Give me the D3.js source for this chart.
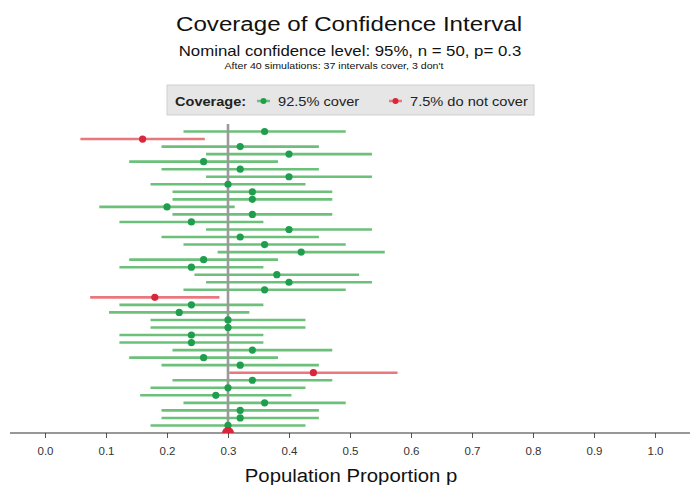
<!DOCTYPE html>
<html>
<head>
<meta charset="utf-8">
<script src="https://cdn.jsdelivr.net/npm/d3@7"></script>
<style>
  body { margin: 0; background: #fff; }
  text { font-family: "Liberation Sans", Arial, sans-serif; }
</style>
</head>
<body>
<div id="chart"></div>
<script>
// simulations, listed from the top row down to the bottom row
var estimates = [0.36, 0.16, 0.32, 0.40, 0.26, 0.32, 0.40, 0.30, 0.34, 0.34,
                 0.20, 0.34, 0.24, 0.40, 0.32, 0.36, 0.42, 0.26, 0.24, 0.38,
                 0.40, 0.36, 0.18, 0.24, 0.22, 0.30, 0.30, 0.24, 0.24, 0.34,
                 0.26, 0.32, 0.44, 0.34, 0.30, 0.28, 0.36, 0.32, 0.32, 0.30];
var lowers = [0.227, 0.058, 0.191, 0.264, 0.138, 0.191, 0.264, 0.173, 0.209, 0.209,
              0.089, 0.209, 0.122, 0.264, 0.191, 0.227, 0.283, 0.138, 0.122, 0.245,
              0.264, 0.227, 0.074, 0.122, 0.105, 0.173, 0.173, 0.122, 0.122, 0.209,
              0.138, 0.191, 0.302, 0.209, 0.173, 0.156, 0.227, 0.191, 0.191, 0.173];
var uppers = [0.493, 0.262, 0.449, 0.536, 0.382, 0.449, 0.536, 0.427, 0.471, 0.471,
              0.311, 0.471, 0.358, 0.536, 0.449, 0.493, 0.557, 0.382, 0.358, 0.515,
              0.536, 0.493, 0.286, 0.358, 0.335, 0.427, 0.427, 0.358, 0.358, 0.471,
              0.382, 0.449, 0.578, 0.471, 0.427, 0.404, 0.493, 0.449, 0.449, 0.427];
var trueP = 0.3;
var xTicks = [0, 0.1, 0.2, 0.3, 0.4, 0.5, 0.6, 0.7, 0.8, 0.9, 1.0];
var legendLabels = ["92.5% cover", "7.5% do not cover"];

var W = 696, H = 485;
var greenLine = "#6cc07a", greenDot = "#1f9e4d";
var redLine = "#e8787e", redDot = "#d9263a";

var svg = d3.select("#chart").append("svg").attr("width", W).attr("height", H);

var x = d3.scaleLinear().domain([0, 1]).range([45, 655]);
var y = d3.scaleLinear().domain([0, 40]).range([433, 131.5]);

var rows = estimates.map(function(d, i) {
  return { est: d, lo: lowers[i], hi: uppers[i], idx: 40 - i,
           covers: lowers[i] <= trueP && uppers[i] >= trueP };
});

// text a bit wider than Liberation Sans, like the original rendering
function wideText(parent, tx, ty, size, sx, anchor, str) {
  return parent.append("text")
    .attr("transform", "translate(" + tx + "," + ty + ") scale(" + sx + ",1)")
    .attr("text-anchor", anchor)
    .style("font-size", size + "px").attr("fill", "#111").text(str);
}

// titles
wideText(svg, 349, 30.5, 21, 1.15, "middle", "Coverage of Confidence Interval");
wideText(svg, 350, 56, 14, 1.2, "middle", "Nominal confidence level: 95%, n = 50, p= 0.3");
wideText(svg, 334, 69, 9, 1.18, "middle", "After 40 simulations: 37 intervals cover, 3 don't");

// legend
var lg = svg.append("g");
lg.append("rect").attr("x", 167).attr("y", 85).attr("width", 367).attr("height", 30)
  .attr("fill", "#e6e6e6").attr("stroke", "#cfcfcf");
wideText(lg, 175, 106, 13, 1.12, "start", "Coverage:").style("font-weight", "bold").attr("fill", "#222");
var legItems = [{ x: 257, line: greenLine, dot: greenDot, label: legendLabels[0] },
                { x: 389, line: redLine, dot: redDot, label: legendLabels[1] }];
legItems.forEach(function(it) {
  lg.append("line").attr("x1", it.x).attr("x2", it.x + 13).attr("y1", 101).attr("y2", 101)
    .attr("stroke", it.line).attr("stroke-width", 2.5);
  lg.append("circle").attr("cx", it.x + 6.5).attr("cy", 101).attr("r", 3).attr("fill", it.dot);
  wideText(lg, it.x + 21, 106, 12.5, 1.17, "start", it.label).attr("fill", "#222");
});

// interval lines
svg.selectAll(".ci").data(rows).enter().append("line")
  .attr("x1", function(d) { return x(d.lo); })
  .attr("x2", function(d) { return x(d.hi); })
  .attr("y1", function(d) { return y(d.idx); })
  .attr("y2", function(d) { return y(d.idx); })
  .attr("stroke", function(d) { return d.covers ? greenLine : redLine; })
  .attr("stroke-width", 2.6);

// true p reference line
svg.append("line").attr("x1", x(trueP)).attr("x2", x(trueP))
  .attr("y1", 124).attr("y2", 433).attr("stroke", "#9a9a9a").attr("stroke-width", 2.6);

// point estimates
svg.selectAll(".pt").data(rows).enter().append("circle")
  .attr("cx", function(d) { return x(d.est); })
  .attr("cy", function(d) { return y(d.idx); })
  .attr("r", 3.6)
  .attr("fill", function(d) { return d.covers ? greenDot : redDot; });

// x axis
var axis = svg.append("g").attr("transform", "translate(0,433)")
  .call(d3.axisBottom(x).tickValues(xTicks).tickFormat(d3.format(".1f")).tickSize(5).tickPadding(9));
axis.select(".domain").remove();
axis.append("line").attr("x1", 10).attr("x2", 690).attr("stroke", "#333").attr("stroke-width", 1.2);
axis.selectAll(".tick line").attr("stroke", "#555");
axis.selectAll(".tick text").style("font-size", "11.5px").attr("fill", "#333")
  .style("font-family", "'Liberation Sans', Arial, sans-serif");

// true p marker (half dot on axis)
var arc = d3.arc().innerRadius(0).outerRadius(6).startAngle(-Math.PI / 2).endAngle(Math.PI / 2);
svg.append("path").attr("d", arc).attr("transform", "translate(" + x(trueP) + ",433)")
  .attr("fill", redDot);

wideText(svg, 351, 482, 18, 1.13, "middle", "Population Proportion p");
</script>
</body>
</html>
